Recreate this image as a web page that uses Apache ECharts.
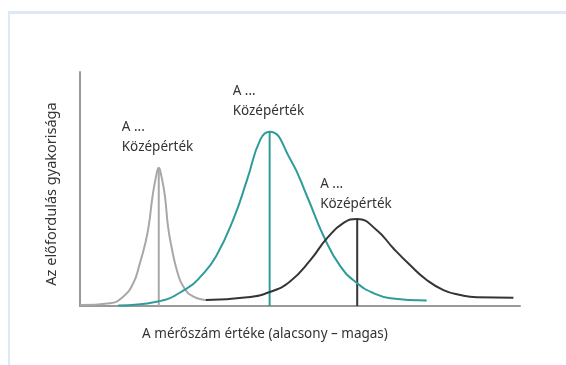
<!DOCTYPE html>
<html>
<head>
<meta charset="utf-8">
<script src="https://cdn.jsdelivr.net/npm/echarts@6/dist/echarts.min.js"></script>
<style>
  html, body { margin: 0; padding: 0; background: #fff; }
  #frame { position: absolute; left: 8px; top: 11px; width: 558px; height: 354px;
           border-top: 3px solid #dfe9f6; border-left: 2px solid #dfe9f6; box-sizing: border-box; }
  #main { position: absolute; left: 0; top: 0; width: 566px; height: 365px; }
</style>
</head>
<body>
<div id="frame"></div>
<div id="main"></div>
<script>
// görbék pontjai (x: mérőszám, y: gyakoriság)
const greyX = [0, 6.8, 9.8, 12.1, 13.6, 14.8, 15.6, 16.5, 17.3, 17.9, 18.5, 19.3, 20.0, 20.8, 22.0, 23.5, 25.8, 28.8];
const greyY = [0.4, 1.2, 4.0, 9.7, 18.2, 26.5, 34.0, 47.0, 55.5, 59.1, 55.5, 47.0, 34.0, 25.3, 15.4, 8.2, 4.0, 2.6];

const tealX = [8.7, 17.4, 24.3, 27.6, 31.0, 35.0, 38.0, 41.0, 43.1, 47.8, 51.6, 55.4, 59.2, 63.0, 66.7, 70.5, 78.8];
const tealY = [0.2, 1.8, 7.5, 13.0, 21.5, 37.8, 54.1, 71.2, 74.5, 62.7, 46.9, 29.7, 16.9, 9.7, 5.5, 3.3, 2.3];

const blackX = [28.6, 38.0, 43.3, 47.8, 52.4, 56.2, 59.9, 63.0, 67.4, 71.2, 75.0, 78.8, 82.6, 86.4, 90.2, 98.5];
const blackY = [2.6, 3.7, 6.1, 10.6, 19.7, 29.1, 35.5, 37.2, 32.5, 24.7, 17.5, 11.1, 6.8, 4.7, 3.7, 3.5];

const labelText = ['A ...', 'Középérték'];
const xName = 'A mérőszám értéke (alacsony – magas)';
const yName = 'Az előfordulás gyakorisága';

function pairs(xs, ys) {
  return xs.map((x, i) => [x, ys[i]]);
}
function peak(xs, ys) {
  const i = ys.indexOf(Math.max(...ys));
  return [xs[i], ys[i]];
}

const font = 'Noto Sans';
const textColor = '#333';

function curve(name, xs, ys, color) {
  return {
    name: name,
    type: 'line',
    data: pairs(xs, ys),
    smooth: 0.5,
    symbol: 'none',
    lineStyle: { color: color, width: 2 },
    z: 3
  };
}

// függőleges vonal a csúcsnál + felirat
function meanLine(name, xs, ys, color, dist) {
  const p = peak(xs, ys);
  return {
    name: name,
    type: 'line',
    symbol: 'circle',
    symbolSize: 0,
    showSymbol: true,
    itemStyle: { color: color },
    lineStyle: { color: color, width: 2 },
    z: 2,
    data: [
      { value: [p[0], 0], label: { show: false } },
      {
        value: p,
        label: {
          show: true,
          position: 'top',
          distance: dist,
          formatter: labelText.map(t => '{a|' + t + '}').join('\n'),
          rich: {
            a: { width: 74, align: 'left', fontSize: 13.5, lineHeight: 20,
                 color: textColor, fontFamily: font }
          }
        }
      }
    ]
  };
}

const myChart = echarts.init(document.getElementById('main'));
myChart.setOption({
  animation: false,
  grid: { left: 80, right: 46, top: 72, bottom: 59 },
  xAxis: {
    type: 'value',
    min: 0,
    max: 100,
    name: xName,
    nameLocation: 'middle',
    nameGap: 21,
    nameTextStyle: { color: textColor, fontSize: 13.5, fontFamily: font, padding: [0, 70, 0, 0] },
    axisLine: { show: true, lineStyle: { color: '#999', width: 2 } },
    axisTick: { show: false },
    axisLabel: { show: false },
    splitLine: { show: false }
  },
  yAxis: {
    type: 'value',
    min: 0,
    max: 100,
    name: yName,
    nameLocation: 'middle',
    nameGap: 21,
    nameTextStyle: { color: textColor, fontSize: 14.5, fontFamily: font, padding: [0, 10, 0, 0] },
    axisLine: { show: true, lineStyle: { color: '#999', width: 2 } },
    axisTick: { show: false },
    axisLabel: { show: false },
    splitLine: { show: false }
  },
  series: [
    curve('grey', greyX, greyY, '#a8a8a8'),
    meanLine('greyMean', greyX, greyY, '#a8a8a8', 11),
    curve('teal', tealX, tealY, '#2f9c9a'),
    meanLine('tealMean', tealX, tealY, '#2f9c9a', 11),
    curve('black', blackX, blackY, '#353535'),
    meanLine('blackMean', blackX, blackY, '#353535', 5)
  ]
});
</script>
</body>
</html>
